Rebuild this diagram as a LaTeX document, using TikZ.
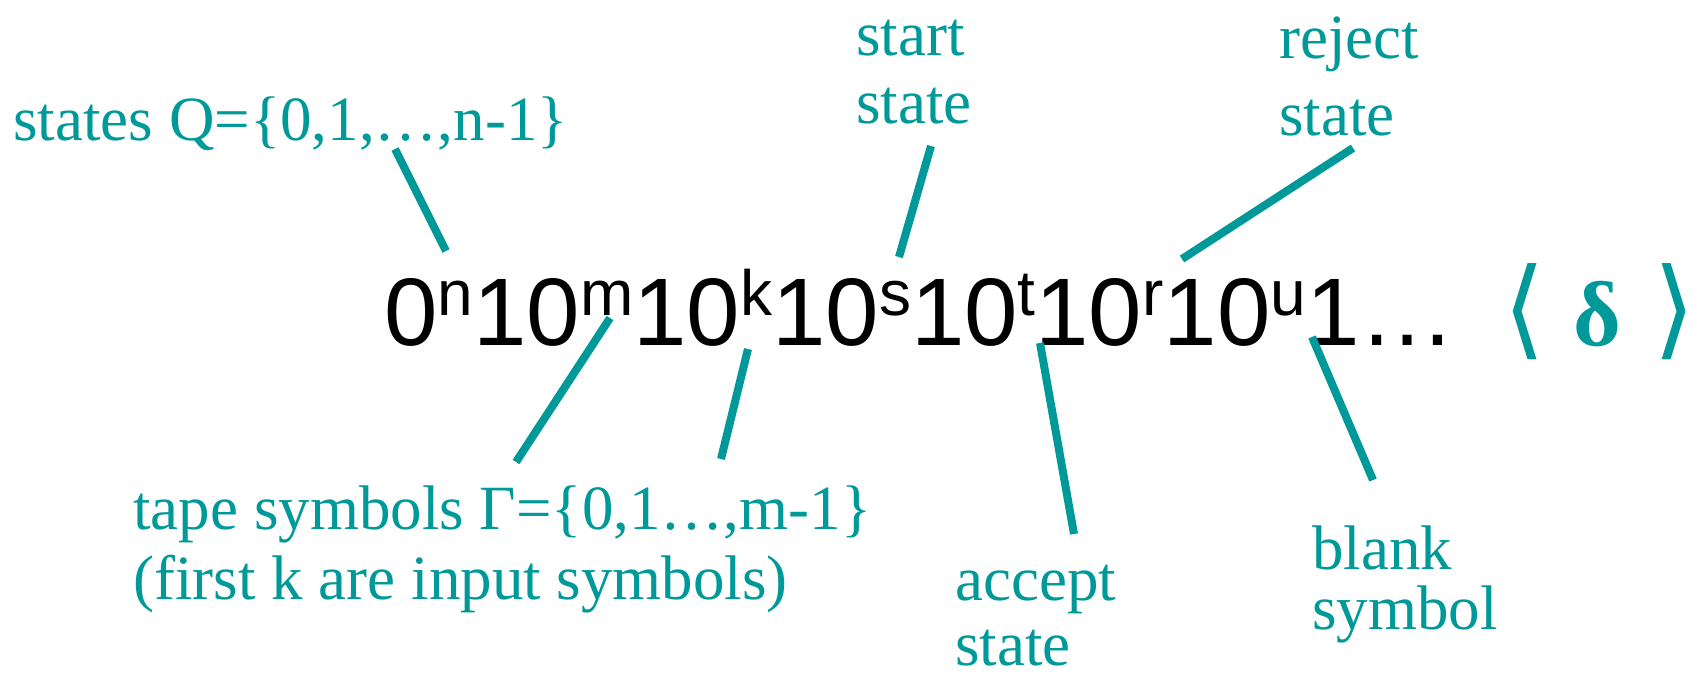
\documentclass[tikz,border=0pt]{standalone}
\usepackage{fontspec}
\setmainfont{Liberation Serif}
\newfontfamily\arialfont{Liberation Sans}
\newfontfamily\bracketfont{DejaVu Sans}
\usepackage{xcolor}
\usepackage{tikz}
\usetikzlibrary{positioning}

\definecolor{tmteal}{RGB}{0,153,153}
\newcommand{\tmexp}[1]{\raisebox{15pt}{\fontsize{32}{32}\selectfont #1}}

\begin{document}
\begin{tikzpicture}[x=0.5pt, y=-0.5pt,
    tmlabel/.style={text=tmteal, inner sep=0pt, anchor=base west, align=left, font=\fontsize{31.5}{34}\selectfont},
    pointer/.style={draw=tmteal, line width=4pt}]
      \useasboundingbox (0,0) rectangle (1693,675);

      % Encoded machine
      \node[inner sep=0pt, anchor=base west, font=\arialfont\fontsize{48}{50}\selectfont] (code) at (384,345) {%
        0\tmexp{n}10\tmexp{m}10\tmexp{k}10\tmexp{s}10\tmexp{t}10\tmexp{r}10\tmexp{u}1…};

      \node[tmlabel, font=\fontsize{46}{50}\selectfont] (delta) at (1503,345) {%
        {\bracketfont\fontsize{54}{56}\selectfont ⟨}\hspace{14pt}\textbf{δ}\hspace{16pt}{\bracketfont\fontsize{54}{56}\selectfont ⟩}};

      % Labels (anchored at the last line)
      \node[tmlabel] (states) at (13,140) {states Q=\{0,1,…,n-1\}};
      \node[tmlabel] (start) at (856,123) {start\\state};
      \node[tmlabel] (reject) at (1279,135) {reject\\[4.5pt]state};
      \node[tmlabel] (tape) at (133,599) {tape symbols Γ=\{0,1…,m-1\}\\[1pt](first k are input symbols)};
      \node[tmlabel] (accept) at (955,665) {accept\\[-1.5pt]state};
      \node[tmlabel] (blank) at (1312,629) {blank\\[-4pt]symbol};

      % Pointers
      \coordinate (q1) at (395,149);   \coordinate (q2) at (446,251);
      \coordinate (m1) at (516,462);   \coordinate (m2) at (610,318);
      \coordinate (k1) at (721,459);   \coordinate (k2) at (748,349);
      \coordinate (s1) at (931,146);   \coordinate (s2) at (899,257);
      \coordinate (r1) at (1353,148);  \coordinate (r2) at (1182,259);
      \coordinate (t1) at (1074,534);  \coordinate (t2) at (1040,343);
      \coordinate (u1) at (1373,480);  \coordinate (u2) at (1312,337);

      \draw[pointer] (q1) -- (q2);
      \draw[pointer] (m1) -- (m2);
      \draw[pointer] (k1) -- (k2);
      \draw[pointer] (s1) -- (s2);
      \draw[pointer] (r1) -- (r2);
      \draw[pointer] (t1) -- (t2);
      \draw[pointer] (u1) -- (u2);
    \end{tikzpicture}
\end{document}
